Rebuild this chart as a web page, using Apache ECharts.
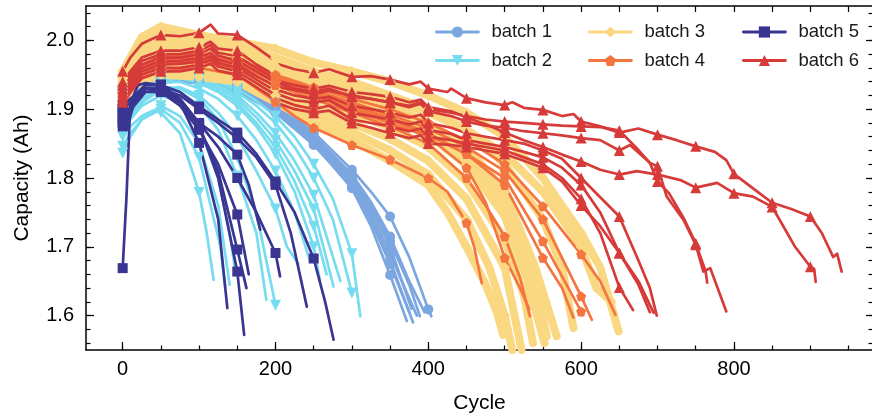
<!DOCTYPE html>
<html><head><meta charset="utf-8">
<script src="https://cdn.jsdelivr.net/npm/echarts@6/dist/echarts.min.js"></script>
<style>html,body{margin:0;padding:0;background:#fff}#c{width:872px;height:416px}</style>
</head><body><div id="c"></div>
<script>
// ---- tick labels ----
const xMajorTicks = [0, 200, 400, 600, 800];
const xMinorTicks = [0, 50, 100, 150, 200, 250, 300, 350, 400, 450, 500, 550, 600, 650, 700, 750, 800, 850, 900, 950];
const yMajorTicks = [1.6, 1.7, 1.8, 1.9, 2.0];
const yMinorTicks = [1.56, 1.58, 1.6, 1.62, 1.64, 1.66, 1.68, 1.7, 1.72, 1.74, 1.76, 1.78, 1.8, 1.82, 1.84, 1.86, 1.88, 1.9, 1.92, 1.94, 1.96, 1.98, 2.0, 2.02, 2.04];

// ---- batch 1 cells: [cycle, capacity] ----
const b1_1 = [[0,1.935],[25,1.95],[50,1.952],[100,1.948],[150,1.94],[200,1.912],[250,1.866],[300,1.812],[325,1.78],[350,1.744],[375,1.685],[400,1.609],[404,1.599]];
const b1_2 = [[0,1.93],[25,1.945],[50,1.948],[100,1.945],[150,1.935],[200,1.905],[250,1.86],[300,1.80],[325,1.76],[350,1.708],[375,1.645],[389,1.599]];
const b1_3 = [[0,1.932],[25,1.947],[50,1.95],[100,1.946],[150,1.936],[200,1.908],[250,1.862],[300,1.805],[325,1.765],[350,1.715],[375,1.65],[395,1.605]];
const b1_4 = [[0,1.925],[25,1.94],[50,1.944],[100,1.94],[150,1.93],[200,1.898],[250,1.85],[300,1.785],[325,1.73],[350,1.659],[372,1.592]];
const b1_5 = [[0,1.928],[25,1.943],[50,1.946],[100,1.942],[150,1.932],[200,1.902],[250,1.855],[300,1.795],[325,1.748],[350,1.69],[375,1.625],[385,1.60]];
const b1_6 = [[0,1.93],[25,1.945],[50,1.948],[100,1.944],[150,1.934],[200,1.904],[250,1.857],[300,1.798],[325,1.755],[350,1.70],[378,1.61]];
const b1_7 = [[0,1.927],[25,1.942],[50,1.945],[100,1.94],[150,1.928],[200,1.898],[250,1.852],[300,1.79],[325,1.742],[350,1.68],[380,1.59]];
const b1_8 = [[0,1.925],[25,1.94],[50,1.942],[100,1.938],[150,1.926],[200,1.895],[250,1.848],[300,1.788],[325,1.738],[350,1.675],[375,1.605]];

// ---- batch 2 ----
const b2_1 = [[0,1.86],[10,1.875],[25,1.89],[40,1.898],[50,1.895],[75,1.865],[100,1.779],[110,1.72],[119,1.652]];
const b2_2 = [[0,1.846],[10,1.865],[25,1.885],[50,1.9],[75,1.88],[100,1.83],[115,1.76],[128,1.70],[134,1.642]];
const b2_3 = [[0,1.836],[10,1.86],[25,1.885],[50,1.905],[75,1.89],[100,1.85],[125,1.76],[140,1.645]];
const b2_4 = [[0,1.87],[10,1.885],[25,1.905],[50,1.92],[75,1.91],[100,1.875],[125,1.80],[140,1.72],[148,1.66]];
const b2_5 = [[0,1.875],[10,1.89],[25,1.91],[50,1.928],[75,1.925],[100,1.905],[125,1.87],[150,1.803],[175,1.72],[188,1.623]];
const b2_6 = [[0,1.88],[10,1.895],[25,1.915],[50,1.932],[75,1.93],[100,1.915],[125,1.885],[150,1.83],[175,1.75],[200,1.615]];
const b2_7 = [[0,1.885],[25,1.92],[50,1.938],[75,1.94],[100,1.93],[125,1.915],[150,1.89],[175,1.855],[200,1.81],[225,1.75],[245,1.68]];
const b2_8 = [[0,1.89],[25,1.925],[50,1.94],[75,1.945],[100,1.938],[125,1.925],[150,1.905],[175,1.875],[200,1.835],[225,1.78],[250,1.70],[258,1.652]];
const b2_9 = [[0,1.888],[25,1.925],[50,1.942],[75,1.946],[100,1.94],[125,1.928],[150,1.91],[175,1.88],[200,1.845],[225,1.795],[250,1.73],[267,1.66]];
const b2_10 = [[0,1.892],[25,1.93],[50,1.945],[75,1.948],[100,1.943],[125,1.932],[150,1.915],[175,1.888],[200,1.855],[225,1.81],[250,1.755],[276,1.642]];
const b2_11 = [[0,1.895],[25,1.93],[50,1.946],[75,1.95],[100,1.945],[125,1.935],[150,1.92],[175,1.895],[200,1.865],[225,1.825],[250,1.775],[285,1.65]];
const b2_12 = [[0,1.89],[25,1.932],[50,1.948],[75,1.952],[100,1.948],[125,1.94],[150,1.925],[175,1.905],[200,1.88],[225,1.845],[250,1.80],[275,1.74],[300,1.633]];
const b2_13 = [[0,1.895],[25,1.935],[50,1.95],[75,1.953],[100,1.95],[125,1.943],[150,1.93],[175,1.912],[200,1.89],[225,1.86],[250,1.82],[275,1.77],[300,1.69],[311,1.599]];
const b2_14 = [[0,1.875],[25,1.91],[50,1.93],[75,1.932],[100,1.92],[125,1.895],[150,1.86],[175,1.81],[200,1.755],[215,1.70],[230,1.675]];

// ---- batch 3 ----
const b3_1 = [[0,1.955],[25,2.005],[50,2.02],[100,2.008],[150,1.998],[200,1.988],[250,1.968],[300,1.955],[350,1.94],[400,1.92],[450,1.895],[500,1.86],[550,1.80],[600,1.72],[625,1.67],[649,1.577]];
const b3_2 = [[0,1.95],[25,1.995],[50,2.01],[100,2.0],[150,1.99],[200,1.975],[250,1.955],[300,1.94],[350,1.92],[400,1.90],[450,1.87],[500,1.82],[550,1.74],[575,1.67],[590,1.582]];
const b3_3 = [[0,1.945],[25,1.99],[50,2.0],[100,1.99],[150,1.98],[200,1.962],[250,1.942],[300,1.925],[350,1.905],[400,1.88],[450,1.845],[500,1.78],[540,1.67],[568,1.57]];
const b3_4 = [[0,1.94],[25,1.98],[50,1.99],[100,1.982],[150,1.972],[200,1.95],[250,1.93],[300,1.91],[350,1.89],[400,1.862],[450,1.82],[500,1.745],[530,1.65],[552,1.56]];
const b3_5 = [[0,1.935],[25,1.97],[50,1.98],[100,1.975],[150,1.965],[200,1.94],[250,1.918],[300,1.895],[350,1.873],[400,1.845],[450,1.795],[500,1.71],[525,1.63],[537,1.56]];
const b3_6 = [[0,1.93],[25,1.96],[50,1.97],[100,1.965],[150,1.955],[200,1.93],[250,1.905],[300,1.88],[350,1.857],[400,1.825],[450,1.77],[500,1.67],[522,1.55]];
const b3_7 = [[0,1.925],[25,1.95],[50,1.96],[100,1.955],[150,1.948],[200,1.92],[250,1.893],[300,1.867],[350,1.84],[400,1.805],[450,1.74],[480,1.67],[500,1.60],[510,1.55]];
const b3_8 = [[0,1.92],[25,1.94],[50,1.95],[100,1.947],[150,1.94],[200,1.91],[250,1.88],[300,1.855],[350,1.825],[400,1.79],[425,1.75],[450,1.70],[475,1.645],[490,1.604],[498,1.572]];
const b3_9 = [[0,1.95],[25,1.99],[50,2.0],[100,1.995],[150,1.985],[200,1.97],[250,1.95],[300,1.935],[350,1.915],[400,1.895],[450,1.87],[500,1.835],[550,1.78],[600,1.70],[620,1.64],[640,1.62]];
const b3_10 = [[0,1.945],[25,1.985],[50,1.995],[100,1.985],[150,1.975],[200,1.955],[250,1.935],[300,1.915],[350,1.895],[400,1.87],[450,1.835],[500,1.765],[525,1.70],[545,1.62],[555,1.57]];

// ---- batch 4 ----
const b4_1 = [[0,1.90],[10,1.925],[25,1.945],[50,1.955],[100,1.96],[150,1.95],[200,1.911],[225,1.89],[250,1.873],[300,1.848],[350,1.827],[400,1.80],[425,1.78],[450,1.735],[460,1.70],[470,1.647]];
const b4_2 = [[0,1.905],[25,1.95],[50,1.965],[100,1.968],[150,1.96],[200,1.935],[250,1.915],[300,1.895],[350,1.875],[400,1.85],[450,1.80],[475,1.76],[500,1.715],[520,1.655],[533,1.599]];
const b4_3 = [[0,1.91],[25,1.955],[50,1.97],[100,1.972],[150,1.965],[200,1.94],[250,1.92],[300,1.90],[350,1.88],[400,1.86],[450,1.815],[475,1.765],[500,1.684],[520,1.64],[532,1.61]];
const b4_4 = [[0,1.915],[25,1.958],[50,1.972],[100,1.975],[150,1.968],[200,1.945],[250,1.925],[300,1.905],[350,1.888],[400,1.865],[450,1.835],[500,1.79],[550,1.684],[575,1.64],[590,1.597]];
const b4_5 = [[0,1.91],[25,1.955],[50,1.968],[100,1.97],[150,1.962],[200,1.942],[250,1.922],[300,1.902],[350,1.885],[400,1.862],[450,1.835],[500,1.80],[550,1.708],[600,1.606]];
const b4_6 = [[0,1.915],[25,1.96],[50,1.975],[100,1.978],[150,1.97],[200,1.948],[250,1.928],[300,1.91],[350,1.892],[400,1.872],[450,1.845],[500,1.81],[550,1.74],[600,1.628],[614,1.594]];
const b4_7 = [[0,1.92],[25,1.962],[50,1.978],[100,1.98],[150,1.972],[200,1.95],[250,1.932],[300,1.915],[350,1.9],[400,1.88],[450,1.855],[500,1.82],[550,1.759],[600,1.689],[625,1.65],[645,1.601]];

// ---- batch 5 ----
const b5_1 = [[0,1.669],[5,1.773],[10,1.909],[20,1.935],[30,1.938],[50,1.935],[75,1.91],[100,1.851],[125,1.74],[137,1.611]];
const b5_2 = [[0,1.895],[5,1.88],[15,1.915],[30,1.935],[50,1.936],[75,1.915],[100,1.877],[125,1.80],[150,1.664],[159,1.572]];
const b5_3 = [[0,1.875],[5,1.87],[15,1.91],[30,1.93],[50,1.93],[75,1.91],[100,1.875],[125,1.81],[150,1.696],[162,1.64]];
const b5_4 = [[0,1.88],[15,1.905],[30,1.925],[50,1.925],[75,1.905],[100,1.87],[125,1.82],[150,1.747],[165,1.66]];
const b5_5 = [[0,1.885],[15,1.91],[30,1.93],[50,1.928],[75,1.915],[100,1.88],[125,1.86],[150,1.834],[165,1.79],[180,1.725]];
const b5_6 = [[0,1.905],[15,1.92],[30,1.935],[50,1.935],[75,1.925],[100,1.904],[125,1.885],[150,1.866],[175,1.835],[200,1.795],[225,1.75],[250,1.683],[265,1.62],[276,1.565]];
const b5_7 = [[0,1.90],[15,1.915],[30,1.93],[50,1.93],[75,1.92],[100,1.90],[125,1.88],[150,1.858],[175,1.83],[200,1.79],[220,1.72],[241,1.613]];
const b5_8 = [[0,1.89],[15,1.91],[30,1.93],[50,1.925],[75,1.91],[100,1.88],[125,1.845],[150,1.80],[175,1.75],[200,1.691],[206,1.657]];

// ---- batch 6 ----
const b6_1 = [[0,1.955],[10,1.975],[25,1.995],[50,2.008],[75,2.006],[100,2.011],[115,2.023],[125,2.01],[150,2.008],[175,1.99],[195,1.974],[205,1.965],[225,1.958],[250,1.953],[270,1.958],[300,1.947],[325,1.948],[350,1.943],[375,1.936],[390,1.94],[400,1.93],[425,1.925],[430,1.93],[450,1.916],[475,1.91],[500,1.906],[510,1.91],[525,1.902],[550,1.899],[575,1.89],[590,1.893],[600,1.882],[625,1.875],[650,1.866],[675,1.872],[700,1.863],[725,1.855],[750,1.846],[775,1.838],[790,1.826],[800,1.806],[825,1.785],[850,1.764],[875,1.755],[900,1.744],[915,1.72],[930,1.685],[935,1.69],[941,1.664]];
const b6_2 = [[0,1.94],[10,1.955],[25,1.975],[50,1.985],[75,1.985],[100,1.99],[115,1.998],[125,1.988],[150,1.985],[175,1.965],[195,1.952],[205,1.94],[225,1.935],[250,1.93],[270,1.934],[300,1.925],[325,1.922],[350,1.918],[375,1.91],[390,1.914],[400,1.903],[430,1.897],[450,1.888],[475,1.878],[500,1.866],[525,1.855],[550,1.845],[575,1.834],[600,1.824],[625,1.812],[650,1.805],[673,1.81],[700,1.805],[730,1.797],[750,1.786],[778,1.793],[800,1.778],[825,1.773],[850,1.758],[862,1.735],[880,1.70],[900,1.671],[905,1.668],[907,1.649]];
const b6_3 = [[0,1.935],[10,1.95],[25,1.97],[50,1.98],[75,1.98],[100,1.985],[115,1.993],[125,1.982],[150,1.977],[175,1.96],[195,1.947],[205,1.937],[225,1.93],[250,1.925],[270,1.93],[300,1.918],[325,1.915],[350,1.91],[375,1.903],[390,1.908],[400,1.897],[430,1.89],[450,1.882],[475,1.876],[500,1.873],[525,1.868],[550,1.865],[575,1.862],[600,1.858],[625,1.855],[650,1.84],[664,1.848],[690,1.822],[700,1.817],[712,1.773],[734,1.739],[750,1.703],[760,1.664],[769,1.669],[790,1.606]];
const b6_4 = [[0,1.93],[10,1.945],[25,1.965],[50,1.975],[75,1.975],[100,1.98],[115,1.988],[125,1.978],[150,1.97],[175,1.955],[195,1.942],[205,1.932],[225,1.928],[250,1.922],[270,1.927],[300,1.92],[325,1.915],[350,1.91],[375,1.905],[390,1.91],[400,1.90],[430,1.895],[450,1.89],[475,1.885],[500,1.882],[525,1.88],[550,1.878],[575,1.876],[600,1.875],[626,1.874],[650,1.869],[673,1.843],[690,1.822],[700,1.795],[715,1.778],[735,1.74],[750,1.705],[756,1.686],[763,1.664],[765,1.648]];
const b6_5 = [[0,1.925],[10,1.94],[25,1.96],[50,1.97],[75,1.97],[100,1.975],[115,1.982],[125,1.972],[150,1.965],[175,1.948],[195,1.936],[205,1.927],[225,1.92],[250,1.915],[270,1.918],[300,1.905],[325,1.90],[350,1.895],[375,1.888],[390,1.892],[400,1.88],[430,1.873],[450,1.865],[475,1.86],[500,1.855],[525,1.85],[550,1.84],[575,1.828],[600,1.80],[625,1.772],[650,1.744],[675,1.68],[690,1.64],[699,1.60]];
const b6_6 = [[0,1.92],[10,1.935],[25,1.955],[50,1.965],[75,1.966],[100,1.97],[115,1.977],[125,1.967],[150,1.96],[175,1.943],[195,1.93],[205,1.921],[225,1.913],[250,1.91],[270,1.913],[300,1.895],[325,1.89],[350,1.885],[375,1.878],[390,1.882],[400,1.87],[430,1.864],[450,1.855],[475,1.85],[500,1.845],[525,1.838],[550,1.83],[575,1.815],[600,1.79],[625,1.75],[650,1.691],[675,1.65],[695,1.604]];
const b6_7 = [[0,1.915],[10,1.93],[25,1.95],[50,1.96],[75,1.96],[100,1.965],[115,1.972],[125,1.962],[150,1.955],[175,1.938],[195,1.924],[205,1.914],[225,1.906],[250,1.90],[270,1.905],[300,1.885],[325,1.88],[350,1.875],[375,1.868],[390,1.872],[400,1.86],[430,1.855],[450,1.85],[475,1.845],[500,1.84],[525,1.83],[550,1.82],[575,1.80],[600,1.77],[625,1.72],[650,1.641],[668,1.608]];
const b6_8 = [[0,1.91],[10,1.925],[25,1.945],[50,1.955],[75,1.955],[100,1.96],[115,1.966],[125,1.956],[150,1.95],[175,1.932],[195,1.918],[205,1.908],[225,1.90],[250,1.895],[270,1.898],[300,1.88],[325,1.873],[350,1.865],[375,1.858],[390,1.862],[400,1.85],[430,1.848],[450,1.845],[475,1.84],[500,1.835],[525,1.825],[550,1.815],[575,1.795],[600,1.76],[625,1.73],[650,1.691],[675,1.645],[690,1.605]];

const batch1 = [b1_1,b1_2,b1_3,b1_4,b1_5,b1_6,b1_7,b1_8];
const batch2 = [b2_1,b2_2,b2_3,b2_4,b2_5,b2_6,b2_7,b2_8,b2_9,b2_10,b2_11,b2_12,b2_13,b2_14];
const batch3 = [b3_1,b3_2,b3_3,b3_4,b3_5,b3_6,b3_7,b3_8,b3_9,b3_10];
const batch4 = [b4_1,b4_2,b4_3,b4_4,b4_5,b4_6,b4_7];
const batch5 = [b5_1,b5_2,b5_3,b5_4,b5_5,b5_6,b5_7,b5_8];
const batch6 = [b6_1,b6_2,b6_3,b6_4,b6_5,b6_6,b6_7,b6_8];

const batchNames = ['batch 1','batch 2','batch 3','batch 4','batch 5','batch 6'];
const FONT = 'Liberation Sans, Arial, Helvetica, sans-serif';
const PENT = 'path://M0,-1 L0.951,-0.309 L0.588,0.809 L-0.588,0.809 L-0.951,-0.309 Z';
const styles = [
  {color:'#7ba6e0', symbol:'circle', rotate:0, width:2.7, size:10},
  {color:'#77dcef', symbol:'triangle', rotate:180, width:2.7, size:11},
  {color:'#fad882', symbol:'diamond', rotate:0, width:8, size:11},
  {color:'#f4753f', symbol:PENT, rotate:0, width:2.7, size:10},
  {color:'#3a3592', symbol:'rect', rotate:0, width:2.7, size:10},
  {color:'#d63b39', symbol:'triangle', rotate:0, width:2.7, size:11}
];
const allBatches = [batch1,batch2,batch3,batch4,batch5,batch6];

const series = [];
allBatches.forEach((cells, bi) => {
  const st = styles[bi];
  cells.forEach(cell => {
    series.push({
      type:'line', name:batchNames[bi], xAxisIndex:0, yAxisIndex:0,
      data: cell.map(p => (p[0] % 50 === 0 ? {value:p} : {value:p, symbol:'none'})),
      symbol: st.symbol, symbolSize: st.size, symbolRotate: st.rotate,
      showSymbol:true, showAllSymbol:true,
      lineStyle:{color:st.color, width:st.width, cap:'round', join:'round'},
      itemStyle:{color:st.color, borderWidth:0},
      emphasis:{disabled:true}, silent:true, animation:false, clip:true
    });
  });
});

const axisBase = {type:'value', splitLine:{show:false}};
const blk = '#000';
function xAx(pos, ticks, len, showLine, labels){
  return Object.assign({}, axisBase, {
    position:pos, min:-48, max:982,
    axisLine:{show:showLine, onZero:false, lineStyle:{color:blk, width:1.5}},
    axisTick:{show:true, inside:true, length:len, customValues:ticks, lineStyle:{color:blk, width:1.2}},
    axisLabel: labels ? {show:true, customValues:ticks, fontSize:20, color:blk, fontFamily:FONT, margin:9} : {show:false}
  });
}
function yAx(pos, ticks, len, showLine, labels){
  return Object.assign({}, axisBase, {
    position:pos, min:1.55, max:2.05,
    axisLine:{show:showLine, onZero:false, lineStyle:{color:blk, width:1.5}},
    axisTick:{show:true, inside:true, length:len, customValues:ticks, lineStyle:{color:blk, width:1.2}},
    axisLabel: labels ? {show:true, customValues:ticks, fontSize:20, color:blk, fontFamily:FONT, margin:12, formatter:v=>Number(v).toFixed(1)} : {show:false}
  });
}
const xMain = xAx('bottom', xMajorTicks, 8, true, true);
xMain.name = 'Cycle'; xMain.nameLocation = 'middle'; xMain.nameGap = 43;
xMain.nameTextStyle = {fontSize:21, color:blk, fontFamily:FONT};
const yMain = yAx('left', yMajorTicks, 8, true, true);
yMain.name = 'Capacity (Ah)'; yMain.nameLocation = 'middle'; yMain.nameGap = 53;
yMain.nameTextStyle = {fontSize:21, color:blk, fontFamily:FONT};

const legendBase = {orient:'vertical', itemWidth:42, itemHeight:14, itemGap:9.5, padding:0, selectedMode:false,
  textStyle:{fontSize:18.5, color:'#1a1a1a', fontFamily:FONT, padding:[0,0,0,8]},
  lineStyle:{width:2.8}};

const chart = echarts.init(document.getElementById('c'), null, {renderer:'canvas'});
chart.setOption({
  animation:false,
  backgroundColor:'#ffffff',
  grid:{left:86, top:6, width:787, height:344, containLabel:false, outerBoundsMode:'none'},
  xAxis:[xMain, xAx('bottom', xMinorTicks, 4.5, false, false), xAx('top', xMinorTicks, 6, true, false)],
  yAxis:[yMain, yAx('left', yMinorTicks, 4.5, false, false), yAx('right', yMajorTicks, 7, true, false), yAx('right', yMinorTicks, 4.5, false, false)],
  legend:[
    Object.assign({}, legendBase, {data:['batch 1','batch 2'], left:435, top:22.5}),
    Object.assign({}, legendBase, {data:['batch 3','batch 4'], left:588, top:22.5}),
    Object.assign({}, legendBase, {data:['batch 5','batch 6'], left:742, top:22.5})
  ],
  series: series
});
</script></body></html>
